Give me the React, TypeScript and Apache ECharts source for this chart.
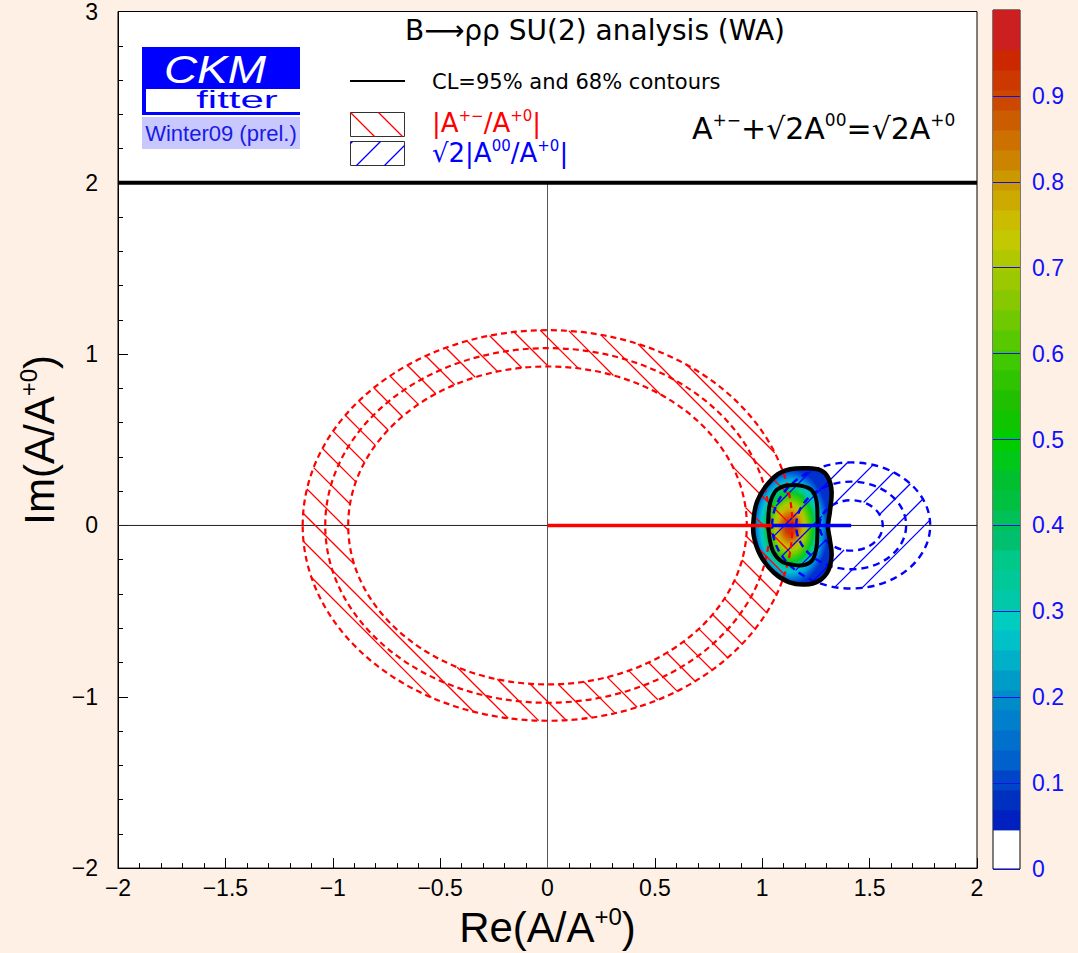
import React, { useEffect, useRef } from 'react';
import * as echarts from 'echarts';

// ---------- data ----------
const redCenter = [0, 0];
const redRadii = [1.14, 1.035, 0.928];
const blueCenter = [1.414, 0];
const blueRadii = [0.368, 0.256, 0.147];
const redSegment = [[0, 0], [1.045, 0]];
const blueSegment = [[1.045, 0], [1.414, 0]];
const blobPeak = [1.13, -0.01];
const blobOuter = [
  [1.129, 0.328], [1.207, 0.334], [1.272, 0.322], [1.307, 0.278], [1.323, 0.198],
  [1.315, 0.08], [1.306, -0.008], [1.315, -0.085], [1.323, -0.174], [1.307, -0.264],
  [1.263, -0.324], [1.199, -0.345], [1.127, -0.332], [1.055, -0.276], [0.992, -0.176],
  [0.96, -0.058], [0.96, 0.041], [0.976, 0.14], [1.017, 0.229], [1.073, 0.3],
];
const blobInner = [
  [1.129, 0.235], [1.184, 0.231], [1.23, 0.206], [1.252, 0.148], [1.257, 0.061],
  [1.257, -0.037], [1.252, -0.133], [1.234, -0.201], [1.199, -0.23], [1.145, -0.23],
  [1.091, -0.211], [1.051, -0.153], [1.033, -0.066], [1.028, 0.031], [1.036, 0.129],
  [1.059, 0.196], [1.091, 0.225],
];
const colorLevels = [
  0.0455, 0.0688, 0.0921, 0.1153, 0.1386, 0.1619, 0.1852, 0.2085, 0.2317, 0.255,
  0.2783, 0.3016, 0.3249, 0.3482, 0.3714, 0.3947, 0.418, 0.4413, 0.4646, 0.4878,
  0.5111, 0.5344, 0.5577, 0.581, 0.6042, 0.6275, 0.6508, 0.6741, 0.6974, 0.7207,
  0.7439, 0.7672, 0.7905, 0.8138, 0.8371, 0.8603, 0.8836, 0.9069, 0.9302, 0.9535,
  0.9767, 1.0,
];
const levelColors = [
  '#0020c0', '#0030c0', '#0044c8', '#0060cc', '#0070cc', '#0080cc', '#008cc8', '#009cc8',
  '#00b0c8', '#00c0c8', '#00ccc0', '#00c8a8', '#00c898', '#00c888', '#00c070', '#00c058',
  '#00c040', '#00c030', '#00c818', '#00cc00', '#10c400', '#20c000', '#30c400', '#40c800',
  '#58c800', '#70c800', '#88c800', '#9cc800', '#b0c800', '#c4c800', '#ccbc00', '#ccaa00',
  '#cc9800', '#cc8400', '#cc7000', '#cc5c00', '#cc4800', '#cc3800', '#cc2800', '#cc2020',
  '#cc2020',
];
const colorBarTicks = [0, 0.1, 0.2, 0.3, 0.4, 0.5, 0.6, 0.7, 0.8, 0.9];
const blobGradient = [
  [0, '#d41c1c'], [0.12, '#d03800'], [0.22, '#d07000'], [0.32, '#d0b000'], [0.4, '#a8cc00'],
  [0.5, '#50cc00'], [0.6, '#00c830'], [0.68, '#00c890'], [0.76, '#00c4d0'], [0.84, '#0098d8'],
  [0.92, '#0060d8'], [1, '#0030d0'],
];

// ---------- style constants ----------
const BG = '#fef0e4';
const RED = '#ff0000';
const BLUE = '#0000ff';
const SP = 28;
const HATCH_W = 1.3;
const SANS = '"Liberation Sans", Arial, sans-serif';
const ROUND = '"DejaVu Sans", sans-serif';

// a shape that strokes many separate straight segments in one element
const HatchShape = echarts.graphic.extendShape({
  shape: { segs: [] as number[][] },
  buildPath(ctx: any, shape: any) {
    for (const s of shape.segs) {
      ctx.moveTo(s[0], s[1]);
      ctx.lineTo(s[2], s[3]);
    }
  },
});
echarts.graphic.registerShape('hatchSegs', HatchShape);

function ellipseHit(p0: number[], d: number[], c: number[], r: number[]) {
  const ex = (p0[0] - c[0]) / r[0], ey = (p0[1] - c[1]) / r[1];
  const dx = d[0] / r[0], dy = d[1] / r[1];
  const a = dx * dx + dy * dy, b = 2 * (ex * dx + ey * dy), cc = ex * ex + ey * ey - 1;
  const disc = b * b - 4 * a * cc;
  if (disc <= 0) return null;
  const s = Math.sqrt(disc);
  return [(-b - s) / (2 * a), (-b + s) / (2 * a)];
}

function annulusHatch(color: string, dir: number, phase: number) {
  return (params: any, api: any) => {
    const c = api.coord([api.value(0), api.value(1)]);
    const so = api.size([api.value(2), api.value(2)]).map((v: number) => Math.abs(v));
    const si = api.size([api.value(3), api.value(3)]).map((v: number) => Math.abs(v));
    const d = [1, dir];
    const k0 = c[0] - dir * c[1];
    const reach = so[0] + so[1];
    const segs: number[][] = [];
    for (let k = Math.ceil((k0 - reach - phase) / SP) * SP + phase; k <= k0 + reach; k += SP) {
      const p0 = [k + dir * c[1], c[1]];
      const io = ellipseHit(p0, d, c, so);
      if (!io) continue;
      const ii = ellipseHit(p0, d, c, si);
      const parts = ii ? [[io[0], ii[0]], [ii[1], io[1]]] : [[io[0], io[1]]];
      for (const [t1, t2] of parts) {
        segs.push([p0[0] + t1 * d[0], p0[1] + t1 * d[1], p0[0] + t2 * d[0], p0[1] + t2 * d[1]]);
      }
    }
    return { type: 'hatchSegs', shape: { segs }, style: { fill: 'none', stroke: color, lineWidth: HATCH_W } };
  };
}

function dashedCircle(color: string, width: number, dash: number[]) {
  return (params: any, api: any) => {
    const c = api.coord([api.value(0), api.value(1)]);
    const s = api.size([api.value(2), api.value(2)]).map((v: number) => Math.abs(v));
    return {
      type: 'ellipse',
      shape: { cx: c[0], cy: c[1], rx: s[0], ry: s[1] },
      style: { fill: 'none', stroke: color, lineWidth: width, lineDash: dash },
    };
  };
}

function rectHatch(x: number, y: number, w: number, h: number, dir: number, phase: number, color: string) {
  const segs: number[][] = [];
  const ks = [x - dir * y, x + w - dir * (y + h), x - dir * (y + h), x + w - dir * y];
  const kmin = Math.min(...ks), kmax = Math.max(...ks);
  for (let k = Math.ceil((kmin - phase) / SP) * SP + phase; k <= kmax; k += SP) {
    let y1, y2;
    if (dir === 1) { y1 = Math.max(y, x - k); y2 = Math.min(y + h, x + w - k); }
    else { y1 = Math.max(y, k - x - w); y2 = Math.min(y + h, k - x); }
    if (y2 - y1 > 0.5) segs.push([k + dir * y1, y1, k + dir * y2, y2]);
  }
  return { type: 'hatchSegs', z: 12, shape: { segs }, style: { fill: 'none', stroke: color, lineWidth: HATCH_W } };
}

function richText(x: number, y: number, text: string, size: number, supSize: number, color: string, family: string) {
  return {
    type: 'text', z: 12,
    style: {
      x, y, text, align: 'left', verticalAlign: 'middle',
      rich: {
        n: { fontSize: size, fontFamily: family, fill: color, lineHeight: size * 1.1 },
        s: { fontSize: supSize, fontFamily: family, fill: color, lineHeight: supSize, verticalAlign: 'top' },
      },
    },
  };
}

function buildOption() {
  const fmt = (v: number) => (v < 0 ? '\u2212' + Math.abs(v) : String(v));
  const bands = levelColors.map((col, i) => [colorLevels[i], colorLevels[i + 1], i]);

  const graphics: any[] = [
    // logo
    { type: 'rect', z: 12, shape: { x: 142, y: 47, width: 158, height: 68 }, style: { fill: '#0000ff' } },
    { type: 'rect', z: 12, shape: { x: 146, y: 89, width: 154, height: 23 }, style: { fill: '#ffffff' } },
    { type: 'text', z: 13, x: 215, y: 69, scaleX: 1.18, style: { x: 0, y: 0, text: 'CKM', align: 'center', verticalAlign: 'middle', fill: '#ffffff', fontSize: 39, fontStyle: 'italic', fontFamily: SANS } },
    { type: 'text', z: 13, scaleX: 1.75, x: 237, y: 100, style: { x: 0, y: 0, text: 'fitter', align: 'center', verticalAlign: 'middle', fill: '#0000ff', fontSize: 24, fontFamily: SANS } },
    { type: 'rect', z: 12, shape: { x: 142, y: 117, width: 158, height: 32 }, style: { fill: '#c8c8ff' } },
    { type: 'text', z: 13, style: { x: 221, y: 133, text: 'Winter09 (prel.)', align: 'center', verticalAlign: 'middle', fill: '#1a1ae6', fontSize: 22, fontFamily: SANS } },
    // title
    { type: 'text', z: 12, style: { x: 595, y: 30, text: 'B\u27f6\u03c1\u03c1 SU(2) analysis (WA)', align: 'center', verticalAlign: 'middle', fill: '#000', fontSize: 28, fontFamily: ROUND } },
    // legend
    { type: 'line', z: 12, shape: { x1: 350, y1: 81, x2: 405, y2: 81 }, style: { stroke: '#000', lineWidth: 2 } },
    { type: 'text', z: 12, style: { x: 432, y: 82, text: 'CL=95% and 68% contours', align: 'left', verticalAlign: 'middle', fill: '#000', fontSize: 21, fontFamily: ROUND } },
    { type: 'rect', z: 11, shape: { x: 350.5, y: 112.5, width: 54, height: 24 }, style: { fill: '#fff', stroke: '#333', lineWidth: 1 } },
    rectHatch(350.5, 112.5, 54, 24, 1, 14, RED),
    { type: 'rect', z: 11, shape: { x: 350.5, y: 141.5, width: 54, height: 24 }, style: { fill: '#fff', stroke: '#333', lineWidth: 1 } },
    rectHatch(350.5, 141.5, 54, 24, -1, 18, BLUE),
    richText(432, 123, '{n||A}{s|+\u2212}{n|/A}{s|+0}{n||}', 26, 15, RED, ROUND),
    richText(432, 153, '{n|\u221a2|A}{s|00}{n|/A}{s|+0}{n||}', 26, 15, BLUE, ROUND),
    richText(692, 128, '{n|A}{s|+\u2212}{n|+\u221a2A}{s|00}{n|=\u221a2A}{s|+0}', 30, 17, '#000', ROUND),
  ];

  const lineSeries = (data: number[][], color: string, width: number, z: number) => ({
    type: 'line', data, symbol: 'none', silent: true, z,
    lineStyle: { color, width }, xAxisIndex: 0, yAxisIndex: 0,
  });

  const nameRich = {
    n: { fontSize: 42, fontFamily: SANS, color: '#000', lineHeight: 46 },
    s: { fontSize: 24, fontFamily: SANS, color: '#000', lineHeight: 24, verticalAlign: 'top' },
  };

  return {
    animation: false,
    backgroundColor: BG,
    grid: [
      { left: 118, top: 10, width: 859, height: 859, show: true, backgroundColor: '#ffffff', borderColor: '#000', borderWidth: 1 },
      { left: 993, top: 10, width: 27, height: 859, show: true, backgroundColor: '#ffffff', borderColor: '#000', borderWidth: 1 },
    ],
    xAxis: [
      {
        gridIndex: 0, type: 'value', min: -2, max: 2, interval: 0.5, position: 'bottom',
        axisLine: { show: true, onZero: false, lineStyle: { color: '#000', width: 1 } },
        axisTick: { show: true, inside: true, length: 10, lineStyle: { color: '#000' } },
        minorTick: { show: true, splitNumber: 5, length: 5, lineStyle: { color: '#000' } },
        splitLine: { show: false },
        axisLabel: { color: '#000', fontSize: 23, fontFamily: SANS, margin: 8, formatter: fmt },
        name: '{n|Re(A/A}{s|+0}{n|)}', nameLocation: 'middle', nameGap: 27,
        nameTextStyle: { rich: nameRich },
      },
      { gridIndex: 1, type: 'value', min: 0, max: 1, show: false, axisLine: { onZero: false } },
    ],
    yAxis: [
      {
        gridIndex: 0, type: 'value', min: -2, max: 3, interval: 1, position: 'left',
        axisLine: { show: true, onZero: false, lineStyle: { color: '#000', width: 1 } },
        axisTick: { show: true, inside: true, length: 10, lineStyle: { color: '#000' } },
        minorTick: { show: true, splitNumber: 5, length: 5, lineStyle: { color: '#000' } },
        splitLine: { show: false },
        axisLabel: { color: '#000', fontSize: 23, fontFamily: SANS, margin: 20, formatter: fmt },
        name: '{n|Im(A/A}{s|+0}{n|)}', nameLocation: 'middle', nameGap: 54, nameRotate: 90,
        nameTextStyle: { rich: nameRich },
      },
      {
        gridIndex: 1, type: 'value', min: 0, max: 1, interval: 0.1, position: 'right', z: 10,
        axisLine: { show: false, onZero: false },
        axisTick: { show: true, inside: true, length: 27, customValues: colorBarTicks, lineStyle: { color: '#1010ee', width: 1 } },
        splitLine: { show: false },
        axisLabel: {
          color: '#1010ff', fontSize: 23, fontFamily: SANS, margin: 12, customValues: colorBarTicks,
          formatter: (v: number) => (v > 0.99 ? '' : String(Math.round(v * 10) / 10)),
        },
      },
    ],
    graphic: { elements: graphics },
    series: [
      // colour bar
      {
        type: 'custom', xAxisIndex: 1, yAxisIndex: 1, silent: true, z: 2,
        data: bands,
        renderItem: (params: any, api: any) => {
          const p1 = api.coord([0, api.value(1)]);
          const p2 = api.coord([1, api.value(0)]);
          return {
            type: 'rect',
            shape: { x: p1[0], y: p1[1], width: p2[0] - p1[0], height: p2[1] - p1[1] + 0.5 },
            style: { fill: levelColors[api.value(2)], stroke: 'none' },
          };
        },
      },
      // axes through origin
      lineSeries([[-2, 0], [2, 0]], '#222', 1, 1),
      lineSeries([[0, -2], [0, 2]], '#555', 1, 1),
      lineSeries([[-2, 2], [2, 2]], '#000', 4, 6),
      // likelihood blob
      {
        type: 'custom', xAxisIndex: 0, yAxisIndex: 0, silent: true, z: 2,
        data: [blobPeak],
        renderItem: (params: any, api: any) => {
          const c = api.coord(blobPeak);
          const sz = api.size([0.18, 0.34]).map((v: number) => Math.abs(v));
          const k = sz[1] / sz[0];
          const local = blobOuter.map((p) => {
            const q = api.coord(p);
            return [q[0] - c[0], (q[1] - c[1]) / k];
          });
          return {
            type: 'polygon', x: c[0], y: c[1], scaleY: k,
            shape: { points: local, smooth: 0.35 },
            style: {
              fill: new echarts.graphic.RadialGradient(0, 0, sz[0], blobGradient.map(([o, col]) => ({ offset: o as number, color: col as string })), true),
              stroke: 'none',
            },
          };
        },
      },
      // hatches
      {
        type: 'custom', xAxisIndex: 0, yAxisIndex: 0, silent: true, z: 3,
        data: [[redCenter[0], redCenter[1], redRadii[0], redRadii[redRadii.length - 1]]],
        renderItem: annulusHatch(RED, 1, 14),
      },
      {
        type: 'custom', xAxisIndex: 0, yAxisIndex: 0, silent: true, z: 3,
        data: [[blueCenter[0], blueCenter[1], blueRadii[0], blueRadii[blueRadii.length - 1]]],
        renderItem: annulusHatch(BLUE, -1, 22),
      },
      // dashed circles
      {
        type: 'custom', xAxisIndex: 0, yAxisIndex: 0, silent: true, z: 3,
        data: redRadii.map((r) => [redCenter[0], redCenter[1], r]),
        renderItem: dashedCircle(RED, 2.2, [6, 4]),
      },
      {
        type: 'custom', xAxisIndex: 0, yAxisIndex: 0, silent: true, z: 3,
        data: blueRadii.map((r) => [blueCenter[0], blueCenter[1], r]),
        renderItem: dashedCircle(BLUE, 2.4, [7, 5]),
      },
      // contours
      {
        type: 'custom', xAxisIndex: 0, yAxisIndex: 0, silent: true, z: 4,
        data: [blobPeak],
        renderItem: (params: any, api: any) => ({
          type: 'group',
          children: [
            { type: 'polygon', shape: { points: blobOuter.map((p) => api.coord(p)), smooth: 0.35 }, style: { fill: 'none', stroke: '#000', lineWidth: 4.5 } },
            { type: 'polygon', shape: { points: blobInner.map((p) => api.coord(p)), smooth: 0.35 }, style: { fill: 'none', stroke: '#000', lineWidth: 4 } },
          ],
        }),
      },
      // triangle sides
      lineSeries(redSegment, RED, 3.5, 5),
      lineSeries(blueSegment, BLUE, 3.5, 5),
    ],
  };
}

export default function App() {
  const ref = useRef<HTMLDivElement>(null);
  useEffect(() => {
    if (!ref.current) return;
    const chart = echarts.init(ref.current, null, { renderer: 'svg' });
    chart.setOption(buildOption() as any);
    return () => chart.dispose();
  }, []);
  return <div ref={ref} style={{ position: 'fixed', left: 0, top: 0, width: 1078, height: 953 }} />;
}
